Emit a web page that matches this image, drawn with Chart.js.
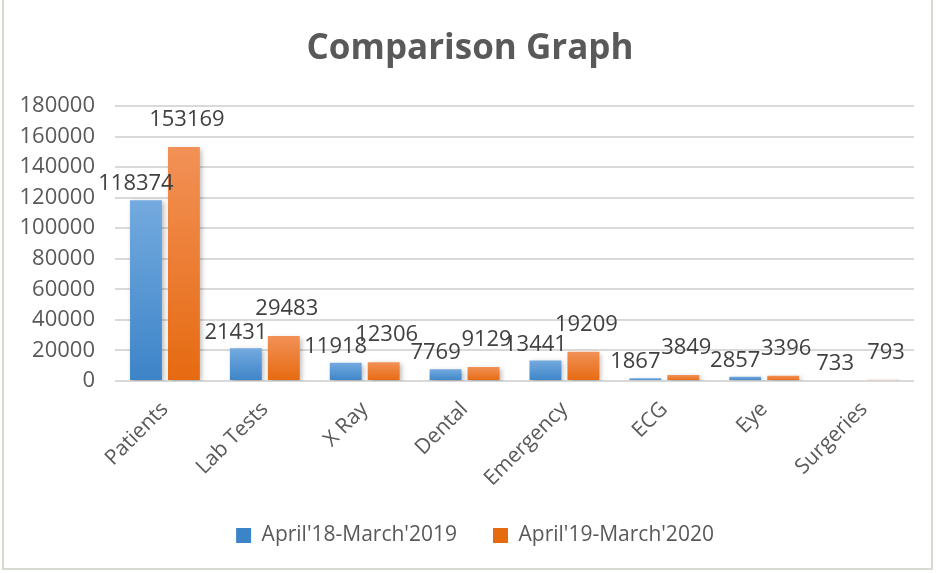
<!DOCTYPE html>
<html>
<head>
<meta charset="utf-8">
<script src="https://cdn.jsdelivr.net/npm/chart.js@4"></script>
<style>
  html, body { margin: 0; padding: 0; background: #fff; }
  #wrap { width: 936px; height: 573px; }
</style>
</head>
<body>
<div id="wrap"><canvas id="chart"></canvas></div>
<script>
const categories = ["Patients", "Lab Tests", "X Ray", "Dental", "Emergency", "ECG", "Eye", "Surgeries"];
const series2019 = [118374, 21431, 11918, 7769, 13441, 1867, 2857, 733];
const series2020 = [153169, 29483, 12306, 9129, 19209, 3849, 3396, 793];
const seriesNames = ["April'18-March'2019", "April'19-March'2020"];
const yTicks = { min: 0, max: 180000, step: 20000 };

const FONT = "'Open Sans', 'Liberation Sans', sans-serif";
const TEXT = "#595959";

// vertical gradient per bar, like the office fill
function barFill(top, bottom, solid) {
    return (ctx) => {
        const chart = ctx.chart;
        if (!chart.chartArea || ctx.raw === undefined) return solid;
        const y = chart.scales.y;
        const y0 = y.getPixelForValue(ctx.raw);
        const y1 = y.getPixelForValue(0);
        const g = chart.ctx.createLinearGradient(0, y0, 0, Math.max(y1, y0 + 1));
        g.addColorStop(0, top);
        g.addColorStop(1, bottom);
        return g;
    };
}

const frame = {
    id: "frame",
    beforeDraw(chart) {
        const c = chart.ctx;
        c.save();
        c.fillStyle = "#fff";
        c.fillRect(0, 0, chart.width, chart.height);
        c.strokeStyle = "#d5dccf";
        c.lineWidth = 2;
        c.strokeRect(3, -2, chart.width - 7, chart.height - 2);
        c.restore();
    }
};

// title and legend sit a bit right of the plot centre in the original
const nudge = {
    id: "nudge",
    afterLayout(chart) {
        chart.titleBlock.left += 8;
        chart.titleBlock.right += 8;
        chart.legend.left += 13;
        chart.legend.right += 13;
    }
};

const shadow = {
    id: "shadow",
    beforeDatasetsDraw(chart) {
        const c = chart.ctx;
        c.save();
        c.shadowColor = "rgba(0,0,0,0.28)";
        c.shadowBlur = 5;
        c.shadowOffsetX = 2;
        c.shadowOffsetY = 2;
    },
    afterDatasetsDraw(chart) {
        chart.ctx.restore();
    }
};

const valueLabels = {
    id: "valueLabels",
    afterDatasetsDraw(chart) {
        const c = chart.ctx;
        c.save();
        c.font = "22px " + FONT;
        c.fillStyle = "#404040";
        c.textAlign = "center";
        c.textBaseline = "middle";
        chart.data.datasets.forEach((ds, i) => {
            chart.getDatasetMeta(i).data.forEach((bar, j) => {
                const dx = i === 0 ? -10 : 3;
                const dy = i === 0 ? 16 : 27;
                c.fillText(String(ds.data[j]), bar.x + dx, bar.y - dy);
            });
        });
        c.restore();
    }
};

new Chart(document.getElementById("chart").getContext("2d"), {
    type: "bar",
    data: {
        labels: categories,
        datasets: [{
            label: seriesNames[0],
            data: series2019,
            backgroundColor: barFill("#74aadf", "#3c84c8", "#5b9bd5"),
            categoryPercentage: 0.76,
            barPercentage: 0.84
        }, {
            label: seriesNames[1],
            data: series2020,
            backgroundColor: barFill("#f29157", "#e66a10", "#ed7d31"),
            categoryPercentage: 0.76,
            barPercentage: 0.84
        }]
    },
    plugins: [frame, nudge, shadow, valueLabels],
    options: {
        responsive: true,
        maintainAspectRatio: false,
        animation: false,
        layout: { padding: { left: 10, right: 22, top: 18, bottom: 17 } },
        plugins: {
            title: {
                display: true,
                text: "Comparison Graph",
                color: TEXT,
                font: { family: FONT, size: 35, weight: "bold" },
                padding: { top: 10, bottom: 36 }
            },
            legend: {
                position: "bottom",
                labels: {
                    color: TEXT,
                    font: { family: FONT, size: 21 },
                    boxWidth: 15,
                    boxHeight: 15,
                    padding: 36
                }
            },
            tooltip: { enabled: false }
        },
        scales: {
            x: {
                grid: { display: false, drawTicks: false },
                border: { display: false },
                ticks: {
                    color: TEXT,
                    font: { family: FONT, size: 21 },
                    minRotation: 45,
                    maxRotation: 45,
                    padding: 16
                },
                afterFit(scale) { scale.height = 108; }
            },
            y: {
                min: yTicks.min,
                max: yTicks.max,
                grid: { color: "#d9d9d9", lineWidth: 2, drawTicks: false },
                border: { display: false },
                ticks: {
                    stepSize: yTicks.step,
                    color: TEXT,
                    font: { family: FONT, size: 22 },
                    padding: 20,
                    callback: (v) => String(v)
                },
                afterFit(scale) { scale.width = 105; }
            }
        }
    }
});
</script>
</body>
</html>
